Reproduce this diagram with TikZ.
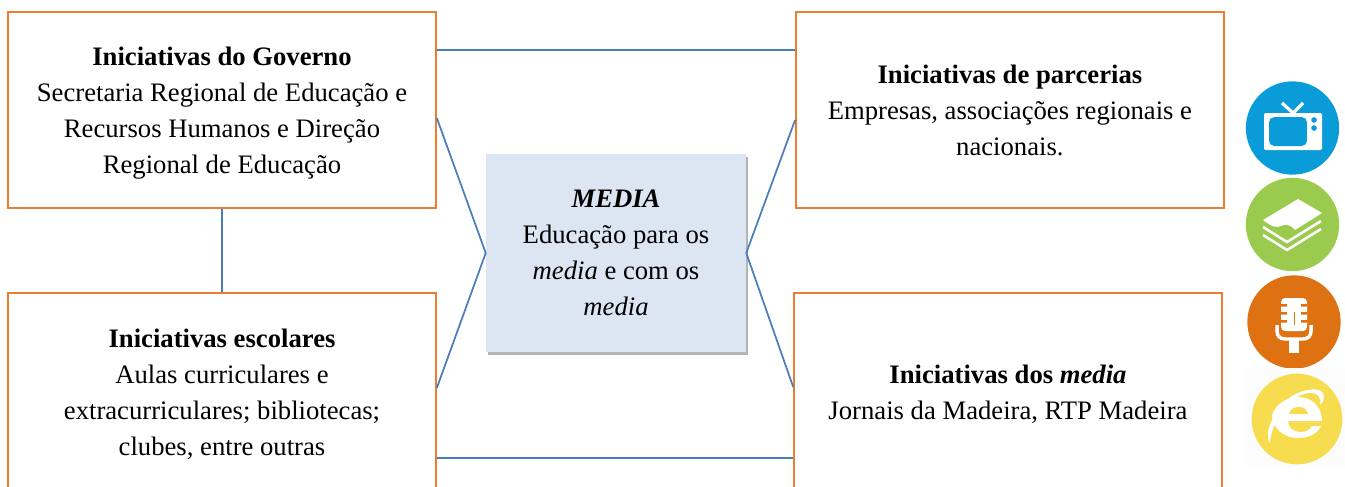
\documentclass[tikz,border=0pt]{standalone}
\usepackage{fontspec}
\setmainfont{Liberation Serif}
\usetikzlibrary{positioning,shadows}
\definecolor{boxorange}{HTML}{ED7D31}
\definecolor{linkblue}{HTML}{4A7EBB}
\definecolor{mediafill}{HTML}{DCE6F2}
\definecolor{tvblue}{HTML}{0A9CD8}
\definecolor{booksgreen}{HTML}{9BCB4E}
\definecolor{micorange}{HTML}{DE7213}
\definecolor{ieyellow}{HTML}{F7DC4F}
\newcommand{\lowerline}{\rule{0pt}{18.3pt}}
\begin{document}
\begin{tikzpicture}[x=0.75pt, y=-0.75pt, font=\fontsize{20}{27}\selectfont,
initiative/.style={rectangle, draw=boxorange, line width=1.2pt, fill=white, align=center,
inner sep=0pt, minimum width=321pt, minimum height=147pt},
mediabox/.style={rectangle, fill=mediafill, align=center, inner sep=0pt, minimum width=195pt,
minimum height=148.5pt, drop shadow={shadow xshift=1.2pt, shadow yshift=-2.2pt, fill=black!50, opacity=0.6}},
link/.style={linkblue, line width=1.3pt},
icon/.style={circle, inner sep=0pt, minimum size=70pt}]
  \useasboundingbox (0,0) rectangle (1345,486);
  % left column
  \node[initiative] (gov) at (222,110) {\lowerline\textbf{Iniciativas do Governo}\\Secretaria Regional de Educação e\\Recursos Humanos e Direção\\Regional de Educação};
  \node[initiative] (esc) at (222,391) {\lowerline\textbf{Iniciativas escolares}\\Aulas curriculares e\\extracurriculares; bibliotecas;\\clubes, entre outras};
  % right column
  \node[initiative] (parc) at (1009.9,110) {\textbf{Iniciativas de parcerias}\\Empresas, associações regionais e\\nacionais.};
  \node[initiative] (dos) at (1008,391) {\lowerline\textbf{Iniciativas dos \textit{media}}\\Jornais da Madeira, RTP Madeira};
  % centre
  \node[mediabox] (med) at (616,253) {\textbf{\textit{MEDIA}}\\Educação para os\\\textit{media} e com os\\\textit{media}};

  \draw[link] ([yshift=45pt]gov.east) -- ([yshift=45pt]parc.west);
  \draw[link] ([yshift=-50.25pt]esc.east) -- ([yshift=-50.25pt]dos.west);
  \draw[link] (gov.south) -- (esc.north);
  \draw[link] ([yshift=-6pt]gov.east) -- (med.west) -- ([yshift=2.25pt]esc.east);
  \draw[link] ([yshift=-7.5pt]parc.west) -- (med.east) -- ([yshift=3pt]dos.west);

  % icons
  \node[icon, fill=tvblue] (tv) at (1292.5,128) {};
  \node[icon, fill=booksgreen] (books) at (1292.5,224.5) {};
  \node[icon, fill=micorange] (mic) at (1294,322) {};
  \fill[black!1] (1247,368) rectangle (1345,467);
  \node[icon, fill=ieyellow, minimum size=68pt] (ie) at (1297,419) {};
  % tv
  \fill[white, rounded corners=1pt] (1264,113) rectangle (1322,150);
  \fill[tvblue, rounded corners=4pt] (1269,117) rectangle (1307,146);
  \fill[tvblue] (1314,120) circle (2.8) (1314,128) circle (2.8);
  \draw[white, line width=2.4pt] (1282,103) -- (1293,113) -- (1303,103);
  % books
  \fill[white] (1298,199) -- (1322,213) -- (1295,230) .. controls (1290,224) and (1285,224) .. (1281,226) .. controls (1276,228) and (1272,227) .. (1263,220) -- cycle;
  \draw[white, line width=1.9pt] (1263,227) -- (1287,242) -- (1321,221);
  \draw[white, line width=1.9pt] (1263,235) -- (1287,250) -- (1321,229);
  % mic
  \fill[white, rounded corners=3pt] (1281,298) rectangle (1307,331);
  \fill[micorange] (1281,304) rectangle (1287,306.5) (1301,304) rectangle (1307,306.5) (1281,312) rectangle (1287,314.5) (1301,312) rectangle (1307,314.5) (1281,320) rectangle (1287,322.5) (1301,320) rectangle (1307,322.5);
  \fill[micorange] (1293.5,312) rectangle (1295,325);
  \draw[white, line width=2.6pt] (1277,325) -- (1277,331) .. controls (1277,336) and (1280,339) .. (1285,339) -- (1303,339) .. controls (1308,339) and (1311,336) .. (1311,331) -- (1311,325);
  \fill[white] (1289,340) rectangle (1299,353);
  % ie
  \fill[white] (1272,415) .. controls (1276,403) and (1288,397) .. (1298,397) .. controls (1312,397) and (1322,407) .. (1322,421) -- (1288,421) .. controls (1288,428) and (1294,432) .. (1300,432) .. controls (1306,432) and (1310,430) .. (1312,426) -- (1321,426) .. controls (1317,434) and (1308,438) .. (1298,438) .. controls (1284,438) and (1272,428) .. (1272,415) -- cycle;
  \fill[ieyellow] (1289,414) .. controls (1290,409) and (1294,407) .. (1299,407) .. controls (1304,407) and (1307,410) .. (1308,414) -- cycle;
  \fill[white] (1270,443) .. controls (1262,432) and (1278,405) .. (1292,396) .. controls (1306,388) and (1318,388) .. (1322,392) .. controls (1326,396) and (1323,403) .. (1320,405) .. controls (1322,398) and (1318,392) .. (1308,393) .. controls (1290,395) and (1270,425) .. (1270,443) -- cycle;
\end{tikzpicture}
\end{document}
